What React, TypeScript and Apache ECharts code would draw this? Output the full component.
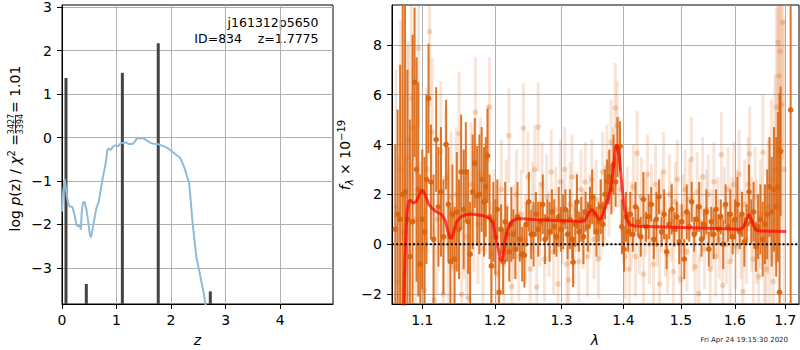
import React, { useEffect, useRef } from "react";
import * as echarts from "echarts";

// ---------- left panel: log p(z) ----------
const pzZ = [0,0.02,0.05,0.08,0.11,0.14,0.19,0.23,0.27,0.31,0.33,0.345,0.36,0.385,0.415,0.445,0.477,0.507,0.53,0.557,0.59,0.63,0.673,0.71,0.752,0.79,0.813,0.832,0.856,0.887,0.936,0.979,1.03,1.07,1.13,1.18,1.23,1.29,1.33,1.376,1.425,1.486,1.547,1.609,1.67,1.76,1.82,1.884,1.945,2.006,2.067,2.128,2.165,2.208,2.25,2.29,2.33,2.36,2.39,2.43,2.465,2.514,2.563,2.6,2.63,2.7];
const pzLog = [-1.7,-1.25,-0.95,-1.25,-1.5,-1.58,-1.6,-1.78,-2.02,-2.05,-1.99,-2.12,-1.75,-1.5,-1.48,-1.63,-1.9,-2.2,-2.3,-2.13,-1.9,-1.63,-1.48,-1.21,-0.9,-0.67,-0.48,-0.29,-0.25,-0.29,-0.21,-0.18,-0.2,-0.14,-0.12,-0.115,-0.15,-0.15,-0.1,-0.02,-0.01,-0.015,-0.06,-0.115,-0.14,-0.15,-0.18,-0.21,-0.25,-0.31,-0.37,-0.43,-0.46,-0.58,-0.71,-0.88,-1.04,-1.44,-1.9,-2.36,-2.76,-3.05,-3.36,-3.59,-3.83,-4.3];
const peakZ = [0.073, 0.446, 1.107, 1.765, 2.72];
const peakVal = [1.37, -3.37, 1.49, 2.17, -3.54];
const zTicks = [0, 1, 2, 3, 4];
const pzTicks = [-3, -2, -1, 0, 1, 2, 3];

// ---------- right panel: spectrum ----------
const lamTicks = [1.1, 1.2, 1.3, 1.4, 1.5, 1.6, 1.7];
const fluxTicks = [-2, 0, 2, 4, 6, 8];

// model: wavelength (micron) and flux
const modelLam = [1.0745,1.0760,1.0773,1.0786,1.0800,1.0820,1.0843,1.0878,1.0921,1.0965,1.1004,1.1039,1.1083,1.1128,1.1185,1.1262,1.1307,1.1339,1.1366,1.1393,1.1430,1.1466,1.1521,1.1581,1.1650,1.1744,1.1838,1.1923,1.1971,1.2004,1.2043,1.2076,1.2100,1.2124,1.2148,1.2182,1.2246,1.2320,1.2418,1.2618,1.3028,1.3291,1.3371,1.3430,1.3484,1.3538,1.3591,1.3630,1.3673,1.3728,1.3784,1.3828,1.3861,1.3883,1.3911,1.3939,1.3978,1.4017,1.4062,1.4107,1.4175,1.4276,1.5000,1.5812,1.6098,1.6157,1.6220,1.6276,1.6330,1.6400,1.6500,1.7019];
const modelFlux = [-4.0,-2.24,-0.63,0.44,1.25,1.69,1.78,1.65,1.71,2.02,2.18,1.98,1.62,1.45,1.31,1.18,0.95,0.58,0.28,0.23,0.58,0.91,1.09,1.18,1.21,1.18,1.14,1.05,0.85,0.44,-0.09,-0.56,-0.66,-0.36,0.17,0.58,0.92,1.02,1.02,0.98,0.94,0.91,0.95,1.25,1.40,1.22,1.0,1.02,1.31,1.71,2.18,2.92,3.73,4.0,3.86,3.33,2.25,1.45,0.98,0.78,0.74,0.72,0.67,0.62,0.60,0.65,0.95,1.21,0.95,0.58,0.53,0.51];

// dark spectrum: [lambda, flux, error]
const darkSpec: number[][] = [
[1.0650,0.6,3.4],[1.0680,1.2,4.2],[1.0712,1.0,6.2],[1.0745,2.0,10],[1.0775,2.1,7.5],[1.0806,1.0,6.0],[1.0838,-0.5,5.5],[1.0873,0.9,7.5],[1.0899,6.5,3.0],[1.0925,3.0,4.5],[1.0948,2.2,4.3],[1.0974,-0.8,3.6],[1.1000,1.0,2.8],
[1.1030,0.5,3.0],[1.1056,2.6,3.4],[1.1083,5.85,2.2],[1.1115,2.5,2.3],[1.1150,0.2,2.6],[1.1185,4.2,2.1],[1.1215,1.5,2.4],[1.1250,2.1,2.6],[1.1283,0.3,2.3],[1.1319,4.0,1.8],[1.1350,1.6,2.3],[1.1378,-0.7,2.2],[1.1405,1.2,2.0],[1.1435,-0.6,2.1],[1.1465,1.3,2.4],[1.1495,0.6,2.0],[1.1525,2.9,2.3],[1.1560,1.4,2.4],[1.1590,2.9,2.0],[1.1622,0.9,2.1],[1.1650,-0.4,2.1],[1.1685,2.1,2.3],[1.1715,3.26,1.8],[1.1748,1.94,2.0],[1.1780,2.0,2.4],[1.1812,2.6,2.1],[1.1845,1.7,2.2],[1.1870,2.3,2.0],[1.1895,3.55,1.9],[1.1925,1.1,1.7],[1.1950,-0.87,1.8],[1.1978,0.9,1.6],
[1.2008,0.3,1.5],[1.2035,1.4,1.2],[1.2062,-1.93,1.4],[1.2090,0.6,1.0],[1.2120,-0.7,1.3],[1.2150,0.9,1.6],[1.2180,0.4,1.1],[1.2210,-0.3,1.2],[1.2240,0.8,1.5],[1.2270,0.4,1.0],[1.2300,-0.2,1.2],[1.2330,1.1,1.4],[1.2365,0.2,0.9],[1.2400,-0.4,1.1],[1.2433,-0.44,1.3],[1.2465,0.8,0.9],[1.2500,1.7,1.2],[1.2535,0.4,1.0],[1.2570,0.4,1.3],[1.2605,1.2,0.9],[1.2640,0.6,1.1],[1.2675,0.9,0.8],[1.2710,1.6,1.2],[1.2745,0.2,1.0],[1.2780,1.0,0.8],[1.2815,0.5,1.2],[1.2850,1.3,0.9],[1.2885,0.7,1.1],[1.2920,0.3,0.8],[1.2955,1.1,1.2],[1.2990,0.6,0.9],[1.3025,0.9,1.1],[1.3060,1.4,0.8],[1.3095,0.4,1.0],[1.3130,1.0,1.2],[1.3165,0.2,0.8],[1.3180,-0.72,1.0],[1.3215,0.8,0.9],[1.3242,1.7,1.1],[1.3275,0.5,0.8],
[1.3310,1.0,0.9],[1.3345,0.3,1.1],[1.3380,1.3,0.8],[1.3415,0.7,1.0],[1.3450,1.5,0.8],[1.3485,1.9,1.1],[1.3520,1.2,0.8],[1.3555,0.5,1.0],[1.3590,0.9,0.8],[1.3625,1.5,1.1],[1.3660,0.8,0.9],[1.3695,2.0,1.0],[1.3730,2.5,0.9],[1.3765,2.7,1.1],[1.3800,2.2,1.0],[1.3835,3.2,1.2],[1.3870,2.5,1.0],[1.3900,3.9,1.2],[1.3943,3.93,1.0],[1.3975,0.7,1.1],[1.4010,-0.2,0.9],[1.4045,1.1,1.0],[1.4080,0.5,0.8],
[1.4115,1.2,0.9],[1.4160,0.4,0.7],[1.4205,1.5,1.0],[1.4250,0.9,0.6],[1.4295,0.3,0.8],[1.4340,1.8,1.1],[1.4385,0.7,0.6],[1.4430,1.1,0.9],[1.4475,1.6,0.7],[1.4520,0.2,0.8],[1.4565,1.0,1.1],[1.4610,1.9,0.7],[1.4655,0.5,0.6],[1.4700,1.2,1.0],[1.4745,-0.3,0.7],[1.4790,0.8,0.6],[1.4835,1.4,1.0],[1.4880,0.6,0.7],[1.4925,1.1,0.6],[1.4970,0.1,0.9],[1.5015,0.9,0.7],[1.5060,-0.6,0.8],[1.5105,1.3,1.1],[1.5150,0.7,0.6],[1.5195,1.7,0.8],[1.5240,0.4,0.7],[1.5285,1.0,0.6],[1.5330,1.5,1.0],[1.5375,0.2,0.7],[1.5420,0.8,0.6],[1.5465,1.3,0.9],[1.5510,-0.2,0.7],[1.5555,0.9,0.6],[1.5600,0.4,1.0],[1.5645,1.4,0.8],[1.5690,0.6,0.6],[1.5735,1.1,0.7],[1.5780,0.0,1.0],[1.5825,1.6,0.8],[1.5870,0.7,0.6],[1.5915,1.2,1.0],[1.5960,0.3,0.7],[1.6005,1.0,0.8],[1.6050,1.6,1.1],[1.6095,0.5,0.7],[1.6140,1.2,0.9],[1.6185,0.1,1.0],[1.6230,0.8,0.8],[1.6275,2.1,1.1],[1.6320,0.9,0.9],[1.6365,1.3,1.2],[1.6410,-0.1,1.0],[1.6455,0.7,1.3],[1.6500,1.0,1.4],
[1.6545,0.2,1.5],[1.6590,0.8,1.6],[1.6635,1.2,1.8],[1.6680,2.3,2.0],[1.6725,1.3,2.2],[1.6770,2.2,2.5],[1.6815,1.5,2.8],[1.6849,2.3,3.0],[1.6883,-1.93,8.0],[1.6904,3.73,2.6],[1.7109,5.39,15]
];

// faint spectrum: [lambda, flux, error]
const lightSpec: number[][] = [
[1.0660,1.5,5.5],[1.0690,-1.5,5.0],[1.0720,3.0,6.0],[1.0750,0.5,5.5],[1.0780,-1.1,4.5],[1.0805,3.5,4.5],[1.0821,4.16,4.0],[1.0855,5.85,4.0],[1.0880,4.66,3.8],[1.0915,1.0,3.8],[1.0951,7.86,3.2],[1.0985,-0.2,3.5],[1.1029,-1.84,3.3],[1.1060,3.0,3.3],[1.1097,8.53,3.0],[1.1130,4.5,3.0],[1.1160,-2.24,3.0],[1.1195,1.0,3.0],[1.1247,3.73,2.8],[1.1280,-2.0,2.8],[1.1315,2.66,2.8],[1.1350,0.3,2.7],[1.1385,1.9,2.6],[1.1420,-0.9,2.6],[1.1455,2.0,2.7],[1.1498,4.43,2.5],[1.1530,-2.01,2.5],[1.1565,1.2,2.6],[1.1600,0.3,2.5],[1.1630,-2.17,2.4],[1.1665,2.4,2.5],[1.1700,1.3,2.4],[1.1724,5.3,2.2],[1.1760,0.8,2.4],[1.1795,2.8,2.3],[1.1830,-0.2,2.3],[1.1865,1.8,2.2],[1.1900,3.4,2.2],[1.1923,5.5,2.0],[1.1955,-0.4,2.1],[1.1990,1.0,2.0],
[1.2025,-1.2,2.0],[1.2060,0.6,2.0],[1.2095,2.2,2.0],[1.2130,-0.8,2.0],[1.2165,1.5,1.9],[1.2205,4.36,1.9],[1.2246,-1.7,1.9],[1.2280,0.5,1.9],[1.2315,2.0,1.8],[1.2350,-0.5,1.8],[1.2385,1.2,1.8],[1.2418,4.66,1.8],[1.2450,0.2,1.8],[1.2485,2.7,1.8],[1.2520,-1.0,1.7],[1.2555,1.5,1.8],[1.2590,3.0,1.8],[1.2618,-1.72,1.7],[1.2640,4.7,1.8],[1.2665,0.8,1.7],[1.2700,2.4,1.7],[1.2735,-0.6,1.7],[1.2770,1.9,1.7],[1.2805,0.4,1.7],[1.2840,2.9,1.7],[1.2875,-0.3,1.7],[1.2910,1.4,1.7],[1.2945,-1.6,1.7],[1.2980,2.5,1.7],[1.3015,0.9,1.7],[1.3050,3.0,1.7],[1.3085,-0.8,1.7],[1.3110,-1.43,1.6],[1.3135,1.6,1.7],[1.3165,2.7,1.7],[1.3200,0.0,1.6],[1.3235,1.3,1.6],[1.3270,-0.7,1.6],[1.3305,2.2,1.6],
[1.3340,0.6,1.6],[1.3375,2.5,1.6],[1.3410,-0.5,1.6],[1.3445,1.2,1.6],[1.3480,2.6,1.6],[1.3515,0.2,1.6],[1.3550,1.8,1.6],[1.3585,-0.6,1.6],[1.3620,1.0,1.6],[1.3655,2.9,1.6],[1.3690,1.5,1.6],[1.3725,3.1,1.7],[1.3760,2.0,1.7],[1.3795,4.1,1.7],[1.3830,3.0,1.7],[1.3863,5.47,1.8],[1.3895,4.76,1.8],[1.3925,3.3,1.8],[1.3960,2.2,1.7],[1.3995,0.9,1.7],[1.4030,-0.5,1.7],[1.4065,1.4,1.7],
[1.4100,-1.0,1.7],[1.4135,0.8,1.7],[1.4170,2.3,1.7],[1.4205,-0.5,1.6],[1.4232,3.65,1.7],[1.4270,0.4,1.6],[1.4305,1.9,1.6],[1.4340,-1.2,1.6],[1.4375,1.1,1.6],[1.4410,2.8,1.6],[1.4445,0.0,1.6],[1.4480,1.6,1.6],[1.4515,-0.8,1.6],[1.4550,2.4,1.6],[1.4585,0.7,1.6],[1.4620,-1.6,1.6],[1.4655,1.3,1.6],[1.4690,2.9,1.6],[1.4725,0.3,1.6],[1.4760,-0.4,1.6],[1.4795,2.0,1.6],[1.4830,0.9,1.6],[1.4865,-1.1,1.6],[1.4900,1.7,1.6],[1.4935,2.6,1.6],[1.4970,0.0,1.6],[1.5005,-1.4,1.6],[1.5040,1.2,1.6],[1.5075,2.2,1.6],[1.5110,-0.3,1.6],[1.5150,1.8,1.6],[1.5189,3.41,1.7],[1.5225,0.5,1.6],[1.5260,-0.9,1.6],[1.5295,2.1,1.6],[1.5325,-1.98,1.6],[1.5360,0.9,1.6],[1.5395,2.7,1.6],[1.5430,-0.2,1.6],[1.5465,1.4,1.6],[1.5500,2.0,1.6],[1.5535,-1.0,1.6],[1.5570,0.6,1.6],[1.5605,2.5,1.6],[1.5640,-0.5,1.6],[1.5675,1.1,1.6],[1.5710,0.2,1.6],[1.5745,3.6,1.7],[1.5770,-1.65,1.6],[1.5805,1.5,1.6],[1.5840,0.0,1.6],[1.5875,2.2,1.7],[1.5910,-0.7,1.7],[1.5945,1.0,1.7],[1.5980,2.4,1.7],[1.6015,-0.1,1.7],[1.6050,1.3,1.7],[1.6085,2.8,1.8],[1.6120,0.4,1.8],[1.6157,-1.9,1.8],[1.6190,1.6,1.8],[1.6225,0.2,1.8],[1.6260,2.4,1.9],[1.6289,3.62,1.9],[1.6325,0.8,1.9],[1.6360,-0.6,2.0],[1.6395,1.9,2.0],[1.6430,0.5,2.1],[1.6465,-1.3,2.1],[1.6500,1.2,2.2],
[1.6548,3.69,2.3],[1.6580,0.0,2.4],[1.6615,-1.0,2.5],[1.6650,1.5,2.7],[1.6685,0.4,3.0],[1.6720,2.6,3.2],[1.6755,-1.5,3.5],[1.6790,3.0,3.8],[1.6820,5.5,4.0],[1.6850,8.1,4.5],[1.6870,6.75,4.5],[1.6895,7.75,5.0],[1.6920,5.6,5.0],[1.6950,8.9,5.5],[1.6980,3.0,6.0]
];

const LAM_MIN = Math.log10(1.0608);
const LAM_MAX = Math.log10(1.7281);
const FONT = "DejaVu Sans";
const ORANGE = "#d9640f";

const minusFmt = (v: number) => (v < 0 ? "\u2212" + Math.abs(v) : String(v));

function errRender(barW: number, r: number, barOp: number, dotOp: number) {
  return (params: any, api: any) => {
    const x = api.value(0), y = api.value(1), e = api.value(2);
    const c = api.coord([x, y]);
    const t = api.coord([x, y + e]);
    const b = api.coord([x, y - e]);
    const cs = params.coordSys;
    const top = Math.max(t[1], cs.y);
    const bot = Math.min(b[1], cs.y + cs.height);
    const children: any[] = [];
    if (bot > top) {
      children.push({ type: "rect", shape: { x: c[0] - barW / 2, y: top, width: barW, height: bot - top }, style: { fill: ORANGE, opacity: barOp } });
    }
    if (c[1] >= cs.y && c[1] <= cs.y + cs.height) {
      children.push({ type: "circle", shape: { cx: c[0], cy: c[1], r }, style: { fill: ORANGE, opacity: dotOp } });
    }
    return { type: "group", children };
  };
}

const axisCommon = {
  axisLine: { show: true, onZero: false, lineStyle: { color: "#000", width: 1 } },
  splitLine: { show: true, lineStyle: { color: "#b0b0b0", width: 1 } },
};

function buildOption(): any {
  const lightData = lightSpec.map((d) => [Math.log10(d[0]), d[1], d[2]]);
  const darkData = darkSpec.map((d) => [Math.log10(d[0]), d[1], d[2]]);
  const modelData = modelLam.map((l, i) => [Math.log10(l), modelFlux[i]]);
  return {
    animation: false,
    textStyle: { fontFamily: FONT },
    grid: [
      { left: 62, top: 5, width: 271, height: 299, show: true, borderColor: "#000", borderWidth: 1, backgroundColor: "transparent", outerBoundsMode: "none" },
      { left: 392, top: 5, width: 407, height: 299, show: true, borderColor: "#000", borderWidth: 1, backgroundColor: "transparent", outerBoundsMode: "none" },
    ],
    xAxis: [
      {
        gridIndex: 0, type: "value", min: 0, max: 4.97, ...axisCommon,
        axisTick: { show: true, length: 5, lineStyle: { color: "#000" }, customValues: zTicks },
        axisLabel: { customValues: zTicks, fontSize: 14, color: "#000", margin: 9, fontFamily: FONT },
      },
      {
        gridIndex: 1, type: "value", min: LAM_MIN, max: LAM_MAX, ...axisCommon,
        axisTick: { show: true, length: 5, lineStyle: { color: "#000" }, customValues: lamTicks.map((l) => Math.log10(l)) },
        axisLabel: { customValues: lamTicks.map((l) => Math.log10(l)), fontSize: 14, color: "#000", margin: 9, fontFamily: FONT, formatter: (v: number) => Math.pow(10, v).toFixed(1) },
      },
    ],
    yAxis: [
      {
        gridIndex: 0, type: "value", min: -3.83, max: 3.05, ...axisCommon,
        axisTick: { show: true, length: 5, lineStyle: { color: "#000" }, customValues: pzTicks },
        axisLabel: { customValues: pzTicks, fontSize: 14, color: "#000", margin: 10, fontFamily: FONT, formatter: minusFmt },
      },
      {
        gridIndex: 1, type: "value", min: -2.4, max: 9.6, ...axisCommon,
        axisTick: { show: true, length: 5, lineStyle: { color: "#000" }, customValues: fluxTicks },
        axisLabel: { customValues: fluxTicks, fontSize: 14, color: "#000", margin: 10, fontFamily: FONT, formatter: minusFmt },
      },
    ],
    series: [
      {
        type: "line", xAxisIndex: 0, yAxisIndex: 0, silent: true, showSymbol: false, clip: true,
        data: pzZ.map((z, i) => [z, pzLog[i]]),
        lineStyle: { color: "#8fbbd9", width: 2 },
      },
      {
        type: "custom", xAxisIndex: 0, yAxisIndex: 0, silent: true, clip: true,
        data: peakZ.map((z, i) => [z, peakVal[i]]),
        encode: { x: 0, y: 1 },
        renderItem: (params: any, api: any) => {
          const p = api.coord([api.value(0), api.value(1)]);
          const cs = params.coordSys;
          const bottom = cs.y + cs.height;
          return { type: "rect", shape: { x: p[0] - 1.5, y: p[1], width: 3, height: bottom - p[1] }, style: { fill: "#444444" } };
        },
      },
      {
        type: "custom", xAxisIndex: 1, yAxisIndex: 1, silent: true, clip: true,
        data: lightData, encode: { x: 0, y: 1 },
        renderItem: errRender(3, 2.8, 0.17, 0.26),
      },
      {
        type: "custom", xAxisIndex: 1, yAxisIndex: 1, silent: true, clip: true,
        data: darkData, encode: { x: 0, y: 1 },
        renderItem: errRender(2, 2.8, 0.88, 0.95),
      },
      {
        type: "line", xAxisIndex: 1, yAxisIndex: 1, silent: true, showSymbol: false, clip: true,
        data: modelData,
        lineStyle: { color: "rgba(255,0,0,0.7)", width: 3 },
      },
      {
        type: "line", xAxisIndex: 1, yAxisIndex: 1, silent: true, showSymbol: false, clip: true,
        data: [[LAM_MIN, 0], [LAM_MAX, 0]],
        lineStyle: { color: "#000", width: 2, type: [2, 2.2] },
      },
    ],
    graphic: [
      { type: "text", x: 318.5, y: 22.5, style: { text: "j161312p5650", align: "right", verticalAlign: "middle", fontSize: 12.5, fontFamily: FONT, fill: "#000" } },
      { type: "text", x: 242, y: 38, style: { text: "ID=834", align: "right", verticalAlign: "middle", fontSize: 12.5, fontFamily: FONT, fill: "#000" } },
      { type: "text", x: 318.5, y: 38, style: { text: "z=1.7775", align: "right", verticalAlign: "middle", fontSize: 12.5, fontFamily: FONT, fill: "#000" } },
      { type: "text", x: 197.5, y: 340, style: { text: "z", align: "center", verticalAlign: "middle", fontSize: 14, fontStyle: "italic", fontFamily: FONT, fill: "#000" } },
      { type: "text", x: 595, y: 340, style: { text: "λ", align: "center", verticalAlign: "middle", fontSize: 14, fontStyle: "italic", fontFamily: FONT, fill: "#000" } },
      { type: "text", x: 788, y: 340, style: { text: "Fri Apr 24 19:15:30 2020", align: "right", verticalAlign: "middle", fontSize: 7, fontFamily: FONT, fill: "#222" } },
      {
        type: "text", x: 345, y: 155, rotation: Math.PI / 2,
        style: {
          text: "{i|f}{sub|λ}{n| × 10}{sup|−19}", align: "center", verticalAlign: "middle", fontFamily: FONT, fill: "#000",
          rich: {
            i: { fontSize: 14, fontStyle: "italic", fontFamily: FONT, lineHeight: 18 },
            n: { fontSize: 14, fontFamily: FONT, lineHeight: 18 },
            sub: { fontSize: 10, fontStyle: "italic", fontFamily: FONT, lineHeight: 10, verticalAlign: "bottom" },
            sup: { fontSize: 10, fontFamily: FONT, lineHeight: 10, verticalAlign: "top" },
          },
        },
      },
      {
        type: "group", x: 15, y: 240, rotation: Math.PI / 2,
        children: [
          {
            type: "text", x: 106, y: 0,
            style: {
              text: "{n|log }{i|p}{n|(z) / }{i|χ}{sup|2}{n| =}", align: "right", verticalAlign: "middle", fontFamily: FONT, fill: "#000",
              rich: {
                n: { fontSize: 14, fontFamily: FONT, lineHeight: 18 },
                i: { fontSize: 14, fontStyle: "italic", fontFamily: FONT, lineHeight: 18 },
                sup: { fontSize: 10, fontFamily: FONT, lineHeight: 10, verticalAlign: "top" },
              },
            },
          },
          { type: "text", x: 116, y: -4, style: { text: "3427", align: "center", verticalAlign: "middle", fontSize: 8, fontFamily: FONT, fill: "#000" } },
          { type: "line", shape: { x1: 107, y1: 0.5, x2: 125, y2: 0.5 }, style: { stroke: "#000", lineWidth: 0.8 } },
          { type: "text", x: 116, y: 5, style: { text: "3394", align: "center", verticalAlign: "middle", fontSize: 8, fontFamily: FONT, fill: "#000" } },
          { type: "text", x: 127, y: 0, style: { text: "= 1.01", align: "left", verticalAlign: "middle", fontSize: 14, fontFamily: FONT, fill: "#000" } },
        ],
      },
    ],
  };
}

export default function App() {
  const ref = useRef<HTMLDivElement>(null);
  useEffect(() => {
    document.body.style.margin = "0";
    const chart = echarts.init(ref.current!, null, { renderer: "svg" });
    chart.setOption(buildOption());
    return () => chart.dispose();
  }, []);
  return <div ref={ref} style={{ width: 800, height: 350 }} />;
}
